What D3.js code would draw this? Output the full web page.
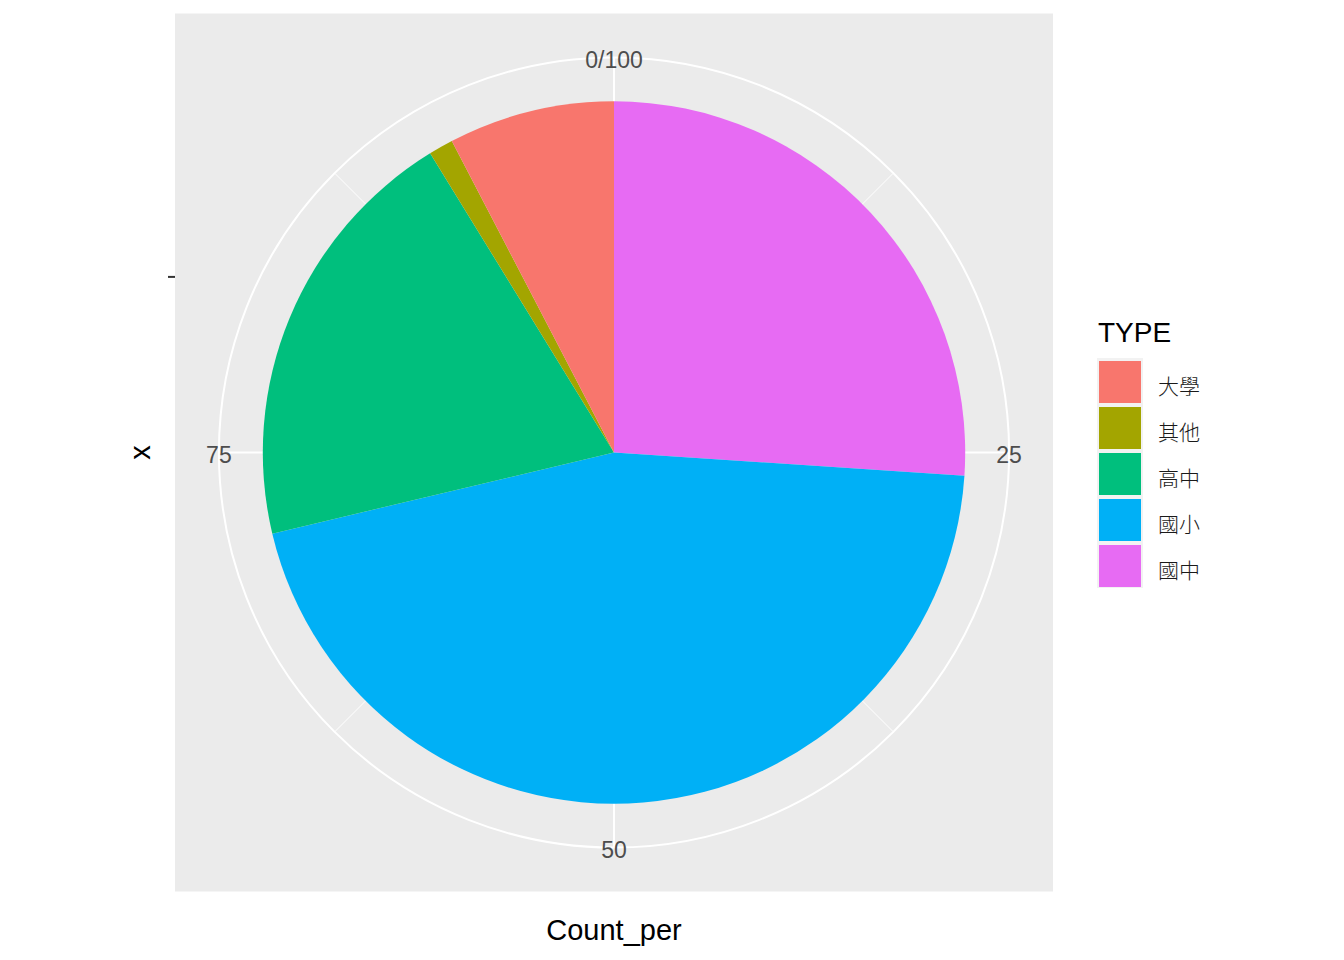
<!DOCTYPE html>
<html>
<head>
<meta charset="utf-8">
<script src="https://cdn.jsdelivr.net/npm/d3@7"></script>
<style>
  body { margin: 0; background: #fff; }
  text { font-family: "Liberation Sans", Arial, sans-serif; }
</style>
</head>
<body>
<div id="vis"></div>
<script>
// legend order (factor levels) and their shares in percent
var types = ["大學", "其他", "高中", "國小", "國中"];
var countPer = [7.64, 1.13, 19.94, 45.24, 26.05];
var colors = ["#F8766D", "#A3A500", "#00BF7D", "#00B0F6", "#E76BF3"];
var thetaBreaks = [0, 25, 50, 75];
var thetaMinor = [12.5, 37.5, 62.5, 87.5];
var thetaLabels = ["0/100", "25", "50", "75"];

var width = 1344, height = 960;
var panel = { x: 175, y: 13.5, size: 878 };
var cx = panel.x + panel.size / 2, cy = panel.y + panel.size / 2;

var svg = d3.select('#vis').append('svg')
  .attr('width', width)
  .attr('height', height);

// theta scale: percent -> angle (clockwise from 12 o'clock)
var theta = d3.scaleLinear().domain([0, 100]).range([0, 2 * Math.PI]);
// r scale: discrete x position (single level at 1, limits 0.5..1.5)
var rScale = d3.scaleLinear().domain([0.5, 1.5]).range([0, 0.4 * panel.size]);
var rOuter = 0.45 * panel.size;

svg.append('rect')
  .attr('x', panel.x).attr('y', panel.y)
  .attr('width', panel.size).attr('height', panel.size)
  .attr('fill', '#EBEBEB');

var g = svg.append('g').attr('transform', 'translate(' + cx + ',' + cy + ')');

// grid: r circles
[rScale(1), rOuter].forEach(function (r) {
  g.append('circle').attr('r', r)
    .attr('fill', 'none').attr('stroke', '#fff').attr('stroke-width', 2);
});

// grid: theta spokes
function spoke(v, w) {
  var a = theta(v);
  g.append('line')
    .attr('x1', 0).attr('y1', 0)
    .attr('x2', rOuter * Math.sin(a)).attr('y2', -rOuter * Math.cos(a))
    .attr('stroke', '#fff').attr('stroke-width', w);
}
thetaMinor.forEach(function (v) { spoke(v, 1); });
thetaBreaks.forEach(function (v) { spoke(v, 2); });

// stacked bar -> pie; first level sits at the top of the stack (last clockwise)
var slices = types.map(function (t, i) { return { type: t, value: countPer[i], color: colors[i] }; });
var ordered = slices.slice().reverse();
var cum = 0;
ordered.forEach(function (d) {
  d.start = cum;
  cum += d.value;
  d.end = cum;
});

var arc = d3.arc()
  .innerRadius(rScale(0.5))
  .outerRadius(rScale(1.5))
  .startAngle(function (d) { return theta(d.start); })
  .endAngle(function (d) { return theta(d.end); });

g.selectAll('.slice')
  .data(ordered)
  .enter().append('path')
  .attr('class', 'slice')
  .attr('d', arc)
  .attr('fill', function (d) { return d.color; });

// theta labels, centred on the outer circle
g.selectAll('.tlab')
  .data(thetaBreaks)
  .enter().append('text')
  .attr('class', 'tlab')
  .attr('x', function (d) { return rOuter * Math.sin(theta(d)); })
  .attr('y', function (d) { return -rOuter * Math.cos(theta(d)); })
  .attr('dy', '0.47em')
  .attr('text-anchor', 'middle')
  .attr('font-size', 23)
  .attr('fill', '#4D4D4D')
  .text(function (d, i) { return thetaLabels[i]; });

// left r-axis tick (blank label)
svg.append('line')
  .attr('x1', panel.x - 7).attr('x2', panel.x)
  .attr('y1', cy - rScale(1)).attr('y2', cy - rScale(1))
  .attr('stroke', '#333333').attr('stroke-width', 2);

// axis titles
svg.append('text')
  .attr('transform', 'translate(150,' + cy + ') rotate(-90)')
  .attr('text-anchor', 'middle')
  .attr('font-size', 29)
  .attr('fill', '#000')
  .text('x');

svg.append('text')
  .attr('x', cx).attr('y', 940)
  .attr('text-anchor', 'middle')
  .attr('font-size', 29)
  .attr('fill', '#000')
  .text('Count_per');

// legend
var legend = svg.append('g').attr('transform', 'translate(1097,358)');
legend.append('text')
  .attr('x', 1).attr('y', -16)
  .attr('font-size', 28)
  .attr('fill', '#000')
  .text('TYPE');

var keys = legend.selectAll('.key')
  .data(slices)
  .enter().append('g')
  .attr('class', 'key')
  .attr('transform', function (d, i) { return 'translate(0,' + (i * 46) + ')'; });

keys.append('rect')
  .attr('width', 46).attr('height', 46)
  .attr('fill', '#F2F2F2');
keys.append('rect')
  .attr('x', 2).attr('y', 3)
  .attr('width', 42).attr('height', 42)
  .attr('fill', function (d) { return d.color; });
keys.append('text')
  .attr('x', 61).attr('y', 28)
  .attr('dy', '0.36em')
  .style('font-family', '"Noto Sans CJK TC", "Noto Sans CJK SC", sans-serif')
  .attr('font-size', 21)
  .attr('font-weight', 300)
  .attr('fill', '#1a1a1a')
  .text(function (d) { return d.type; });
</script>
</body>
</html>
